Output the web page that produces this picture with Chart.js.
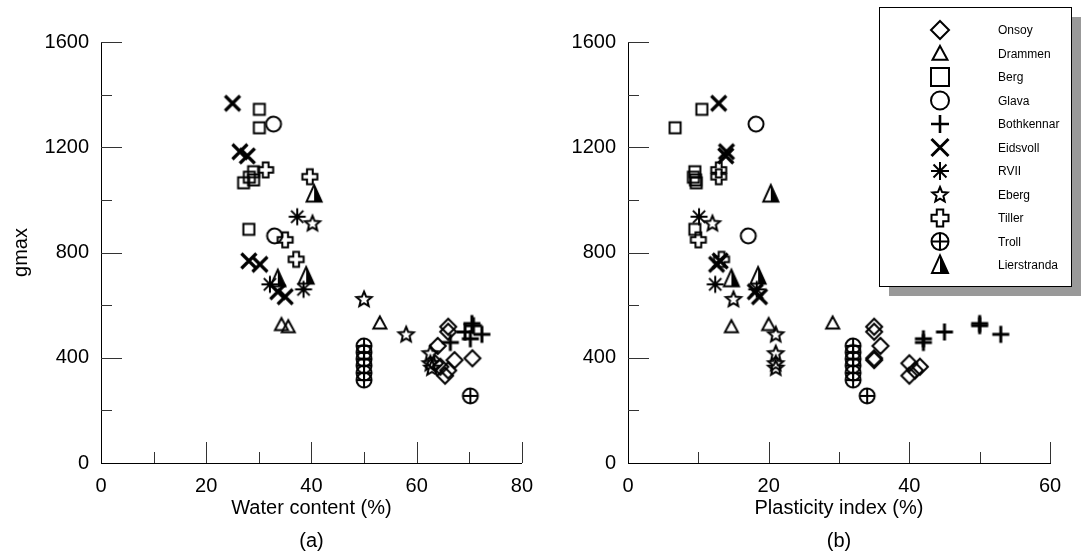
<!DOCTYPE html>
<html>
<head>
<meta charset="utf-8">
<script src="https://cdn.jsdelivr.net/npm/chart.js@4.4.1/dist/chart.umd.min.js"></script>
<style>
html, body { margin: 0; padding: 0; background: #fff; }
#wrap { position: relative; width: 1088px; height: 556px; }
.panel { position: absolute; top: 0; width: 544px; height: 556px; }
</style>
</head>
<body>
<div id="wrap">
  <div class="panel" style="left:0"><canvas id="chartA" width="544" height="556"></canvas></div>
  <div class="panel" style="left:544px"><canvas id="chartB" width="544" height="556"></canvas></div>
</div>
<script>
// ---------- data ----------
const siteNames = ["Onsoy", "Drammen", "Berg", "Glava", "Bothkennar", "Eidsvoll", "RVII", "Eberg", "Tiller", "Troll", "Lierstranda"];

const onsoyGmax = [518, 499, 445, 398, 391, 379, 366, 352, 332];
const onsoyWater = [66.0, 66.0, 64.0, 70.6, 67.2, 63.5, 64.5, 66.0, 65.4];
const onsoyPI = [35.0, 35.0, 35.9, 35.0, 35.0, 40.0, 41.5, 40.8, 40.0];

const drammenGmax = [526, 518, 532];
const drammenWater = [34.3, 35.6, 53.0];
const drammenPI = [20.0, 14.7, 29.1];

const bergGmax = [1344, 1274, 1107, 1086, 1076, 1065, 888];
const bergWater = [30.1, 30.1, 29.0, 28.2, 29.0, 27.1, 28.1];
const bergPI = [10.5, 6.7, 9.5, 9.3, 9.6, 9.7, 9.5];

const glavaGmax = [1288, 863];
const glavaWater = [32.8, 33.0];
const glavaPI = [18.2, 17.1];

const bothkennarGmax = [458, 472, 498, 522, 530, 489];
const bothkennarWater = [66.4, 70.2, 69.2, 70.8, 70.5, 72.4];
const bothkennarPI = [42.0, 42.0, 45.0, 50.0, 50.0, 53.0];

const eidsvollGmax = [1367, 1183, 1167, 768, 755, 651, 632];
const eidsvollWater = [25.0, 26.4, 27.8, 28.1, 30.2, 33.6, 35.0];
const eidsvollPI = [12.9, 14.0, 13.9, 13.1, 12.6, 18.1, 18.7];

const rviiGmax = [936, 679, 660];
const rviiWater = [37.3, 32.1, 38.5];
const rviiPI = [10.1, 12.4, 18.3];

const ebergGmax = [911, 623, 489, 417, 379, 362];
const ebergWater = [40.2, 50.0, 58.0, 62.6, 62.6, 62.9];
const ebergPI = [12.0, 15.0, 21.0, 21.0, 21.0, 21.0];

const tillerGmax = [1114, 1088, 848, 774];
const tillerWater = [31.3, 39.7, 35.0, 37.1];
const tillerPI = [12.9, 12.9, 10.0, 13.3];

const trollGmax = [445, 420, 395, 370, 342, 315, 255];
const trollWater = [50, 50, 50, 50, 50, 50, 70.2];
const trollPI = [32, 32, 32, 32, 32, 32, 34];

const lierstrandaGmax = [1022, 700, 710];
const lierstrandaWater = [40.5, 33.6, 39.0];
const lierstrandaPI = [20.3, 14.7, 18.5];

const xTicksA = [0, 20, 40, 60, 80];
const xTicksB = [0, 20, 40, 60];
const yTicks = [0, 400, 800, 1200, 1600];

const gmaxSets = [onsoyGmax, drammenGmax, bergGmax, glavaGmax, bothkennarGmax, eidsvollGmax, rviiGmax, ebergGmax, tillerGmax, trollGmax, lierstrandaGmax];
const waterSets = [onsoyWater, drammenWater, bergWater, glavaWater, bothkennarWater, eidsvollWater, rviiWater, ebergWater, tillerWater, trollWater, lierstrandaWater];
const piSets = [onsoyPI, drammenPI, bergPI, glavaPI, bothkennarPI, eidsvollPI, rviiPI, ebergPI, tillerPI, trollPI, lierstrandaPI];

// ---------- marker styles ----------
const FONT = "'Liberation Sans', Arial, sans-serif";
const kinds = ["diamond", "triangle", "square", "circle", "plus", "cross", "asterisk", "star", "swiss", "troll", "halftri"];
const chartSize = { diamond: 16, triangle: 13, square: 11, circle: 15, plus: 17, cross: 15, asterisk: 17, star: 16, swiss: 15, troll: 15, halftri: 15 };
const legendSize = { diamond: 18, triangle: 15, square: 18, circle: 18, plus: 18, cross: 17, asterisk: 18, star: 16, swiss: 17, troll: 17, halftri: 16 };
const chartLw = { plus: 3, cross: 3.2 };
const legendLw = { plus: 2.6, cross: 3 };

function drawSymbol(ctx, kind, x, y, size, lw) {
    const r = size / 2;
    ctx.save();
    ctx.strokeStyle = "#000";
    ctx.fillStyle = "#000";
    ctx.lineWidth = lw;
    ctx.lineJoin = "miter";
    ctx.beginPath();
    if (kind === "diamond") {
        ctx.moveTo(x, y - r); ctx.lineTo(x + r, y); ctx.lineTo(x, y + r); ctx.lineTo(x - r, y); ctx.closePath();
        ctx.stroke();
    } else if (kind === "triangle") {
        const h = size * 0.92;
        ctx.moveTo(x, y - h * 0.55); ctx.lineTo(x + r, y + h * 0.45); ctx.lineTo(x - r, y + h * 0.45); ctx.closePath();
        ctx.stroke();
    } else if (kind === "square") {
        ctx.rect(x - r, y - r, size, size);
        ctx.stroke();
    } else if (kind === "circle") {
        ctx.arc(x, y, r, 0, Math.PI * 2);
        ctx.stroke();
    } else if (kind === "plus") {
        ctx.moveTo(x - r, y); ctx.lineTo(x + r, y); ctx.moveTo(x, y - r); ctx.lineTo(x, y + r);
        ctx.stroke();
    } else if (kind === "cross") {
        ctx.moveTo(x - r, y - r); ctx.lineTo(x + r, y + r); ctx.moveTo(x + r, y - r); ctx.lineTo(x - r, y + r);
        ctx.stroke();
    } else if (kind === "asterisk") {
        const d = r * 0.72;
        ctx.moveTo(x - r, y); ctx.lineTo(x + r, y); ctx.moveTo(x, y - r); ctx.lineTo(x, y + r);
        ctx.moveTo(x - d, y - d); ctx.lineTo(x + d, y + d); ctx.moveTo(x + d, y - d); ctx.lineTo(x - d, y + d);
        ctx.stroke();
    } else if (kind === "star") {
        const ri = r * 0.45;
        for (let i = 0; i < 10; i++) {
            const a = -Math.PI / 2 + i * Math.PI / 5;
            const rr = i % 2 === 0 ? r : ri;
            const px = x + rr * Math.cos(a), py = y + 0.5 + rr * Math.sin(a);
            if (i === 0) ctx.moveTo(px, py); else ctx.lineTo(px, py);
        }
        ctx.closePath();
        ctx.stroke();
    } else if (kind === "swiss") {
        const a = r * 0.38;
        const pts = [[-a, -r], [a, -r], [a, -a], [r, -a], [r, a], [a, a], [a, r], [-a, r], [-a, a], [-r, a], [-r, -a], [-a, -a]];
        pts.forEach((p, i) => i === 0 ? ctx.moveTo(x + p[0], y + p[1]) : ctx.lineTo(x + p[0], y + p[1]));
        ctx.closePath();
        ctx.stroke();
    } else if (kind === "troll") {
        ctx.arc(x, y, r, 0, Math.PI * 2);
        ctx.moveTo(x - r, y); ctx.lineTo(x + r, y); ctx.moveTo(x, y - r); ctx.lineTo(x, y + r);
        ctx.stroke();
    } else if (kind === "halftri") {
        const h = size * 1.1;
        const top = y - h * 0.55, bot = y + h * 0.45;
        ctx.moveTo(x, top); ctx.lineTo(x + r, bot); ctx.lineTo(x, bot); ctx.closePath();
        ctx.fill();
        ctx.beginPath();
        ctx.moveTo(x, top); ctx.lineTo(x + r, bot); ctx.lineTo(x - r, bot); ctx.closePath();
        ctx.stroke();
    }
    ctx.restore();
}

function markerImage(kind) {
    const c = document.createElement("canvas");
    c.width = 28; c.height = 28;
    drawSymbol(c.getContext("2d"), kind, 14, 14, chartSize[kind], chartLw[kind] || 2);
    return c;
}
const markers = kinds.map(markerImage);

function buildDatasets(xSets) {
    return siteNames.map((name, i) => ({
        label: name,
        data: xSets[i].map((v, j) => ({ x: v, y: gmaxSets[i][j] })),
        pointStyle: markers[i],
        pointRadius: 8,
        showLine: false
    }));
}

// ---------- inward tick marks ----------
const innerTicks = {
    id: "innerTicks",
    beforeDatasetsDraw(chart) {
        const { ctx, chartArea: a, scales: { x, y } } = chart;
        ctx.save();
        ctx.strokeStyle = "#333";
        ctx.lineWidth = 1;
        ctx.beginPath();
        for (let v = x.min + 10; v <= x.max; v += 10) {
            const px = Math.round(x.getPixelForValue(v)) + 0.5;
            const len = v % 20 === 0 ? 21 : 11;
            ctx.moveTo(px, a.bottom); ctx.lineTo(px, a.bottom - len);
        }
        for (let v = y.min + 200; v <= y.max; v += 200) {
            const py = Math.round(y.getPixelForValue(v)) + 0.5;
            const len = v % 400 === 0 ? 21 : 11;
            ctx.moveTo(a.left, py); ctx.lineTo(a.left + len, py);
        }
        ctx.stroke();
        ctx.restore();
    }
};

// ---------- boxed legend with shadow ----------
const boxLegend = {
    id: "boxLegend",
    afterDraw(chart) {
        const ctx = chart.ctx;
        const bx = 335, by = 7, bw = 192, bh = 279;
        ctx.save();
        ctx.fillStyle = "#999";
        ctx.fillRect(bx + 10, by + 10, bw, bh);
        ctx.fillStyle = "#fff";
        ctx.fillRect(bx, by, bw, bh);
        ctx.strokeStyle = "#000";
        ctx.lineWidth = 1;
        ctx.strokeRect(bx + 0.5, by + 0.5, bw, bh);
        ctx.font = "12px " + FONT;
        ctx.textBaseline = "middle";
        ctx.fillStyle = "#000";
        chart.data.datasets.forEach((ds, i) => {
            const yy = 30 + i * 23.5;
            drawSymbol(ctx, kinds[i], 396, yy, legendSize[kinds[i]], legendLw[kinds[i]] || 2);
            ctx.fillText(ds.label, 454, yy + 1);
        });
        ctx.restore();
    }
};

function makeOptions(xMax, xTickList, xTitle, panelTitle, showYTitle, yWidth, rightPad) {
    return {
        responsive: false,
        animation: false,
        layout: { padding: { top: 42, right: rightPad, left: 0, bottom: 0 } },
        plugins: { legend: { display: false }, tooltip: { enabled: false } },
        scales: {
            x: {
                type: "linear",
                min: 0,
                max: xMax,
                afterBuildTicks: s => { s.ticks = xTickList.map(v => ({ value: v })); },
                ticks: { color: "#000", font: { family: FONT, size: 20 }, padding: 11, maxRotation: 0, autoSkip: false, callback: v => String(v) },
                grid: { display: false, drawTicks: false },
                border: { display: true, color: "#000", width: 1 },
                title: {
                    display: true, text: [xTitle, panelTitle], color: "#000",
                    font: { family: FONT, size: 20, lineHeight: 1.65 }, padding: { top: 0, bottom: -2 }
                },
                afterFit: s => { s.height = 93; }
            },
            y: {
                type: "linear",
                min: 0,
                max: 1600,
                afterBuildTicks: s => { s.ticks = yTicks.map(v => ({ value: v })); },
                ticks: { color: "#000", font: { family: FONT, size: 20 }, padding: 12, callback: v => String(v) },
                grid: { display: false, drawTicks: false },
                border: { display: true, color: "#000", width: 1 },
                title: { display: showYTitle, text: "gmax", color: "#000", font: { family: FONT, size: 20 }, padding: { top: 9, bottom: 0 } },
                afterFit: s => { s.width = yWidth; }
            }
        }
    };
}

new Chart(document.getElementById("chartA"), {
    type: "scatter",
    data: { datasets: buildDatasets(waterSets) },
    options: makeOptions(80, xTicksA, "Water content (%)", "(a)", true, 101, 22),
    plugins: [innerTicks]
});

new Chart(document.getElementById("chartB"), {
    type: "scatter",
    data: { datasets: buildDatasets(piSets) },
    options: makeOptions(60, xTicksB, "Plasticity index (%)", "(b)", false, 84, 38),
    plugins: [innerTicks, boxLegend]
});
</script>
</body>
</html>
